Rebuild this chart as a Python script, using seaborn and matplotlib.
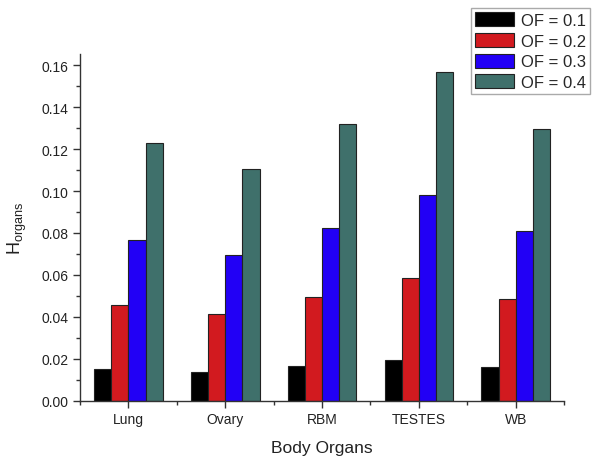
import matplotlib
matplotlib.use("Agg")
import matplotlib.pyplot as plt
from matplotlib.ticker import MultipleLocator, FixedLocator
import seaborn as sns
import pandas as pd

organs = ["Lung", "Ovary", "RBM", "TESTES", "WB"]
of_labels = ["OF = 0.1", "OF = 0.2", "OF = 0.3", "OF = 0.4"]
h_of_01 = [0.0153, 0.0138, 0.0164, 0.0194, 0.0162]
h_of_02 = [0.0458, 0.0415, 0.0493, 0.0586, 0.0485]
h_of_03 = [0.0764, 0.0694, 0.0824, 0.0980, 0.0811]
h_of_04 = [0.1227, 0.1106, 0.1321, 0.1567, 0.1298]
colors = ["#000000", "#d21a1f", "#2200f5", "#3f706b"]

rows = []
for label, vals in zip(of_labels, [h_of_01, h_of_02, h_of_03, h_of_04]):
    for organ, v in zip(organs, vals):
        rows.append({"organ": organ, "OF": label, "H": v})
df = pd.DataFrame(rows)

sns.set_style("ticks")
plt.rcParams["font.family"] = ["Liberation Sans", "DejaVu Sans"]
plt.rcParams["mathtext.fontset"] = "custom"
plt.rcParams["mathtext.rm"] = "Liberation Sans"

fig = plt.figure(figsize=(5.97, 4.6), dpi=100)
ax = fig.add_axes([0.134, 0.127, 0.811, 0.753])

sns.barplot(data=df, x="organ", y="H", hue="OF", order=organs,
            hue_order=of_labels, palette=colors, width=0.71, gap=0,
            edgecolor="#222222", linewidth=0.8, saturation=1, ax=ax)

ax.set_xlim(-0.5, 4.5)
ax.set_ylim(0, 0.1653)
ax.yaxis.set_major_locator(MultipleLocator(0.02))
ax.yaxis.set_minor_locator(MultipleLocator(0.01))
ax.yaxis.set_major_formatter(plt.FuncFormatter(lambda v, p: f"{v:.2f}"))
ax.xaxis.set_minor_locator(FixedLocator([-0.5, 0.5, 1.5, 2.5, 3.5, 4.5]))

for side in ("top", "right"):
    ax.spines[side].set_visible(False)
for side in ("left", "bottom"):
    ax.spines[side].set_linewidth(1.0)
    ax.spines[side].set_color("#333333")

ax.tick_params(which="major", direction="out", length=5, width=1.0,
               color="#333333", labelsize=10, labelcolor="#222222")
ax.tick_params(which="minor", direction="out", length=3, width=1.0,
               color="#333333")

ax.set_xlabel("Body Organs", fontsize=12.5, color="#222222", labelpad=10)
ax.set_ylabel(r"H$_{\mathrm{organs}}$", fontsize=13, color="#222222",
              labelpad=9)

handles, labels = ax.get_legend_handles_labels()
ax.legend(handles, labels, loc="upper right", bbox_to_anchor=(0.988, 0.98),
          bbox_transform=fig.transFigure, fontsize=12, frameon=True,
          fancybox=False, edgecolor="#aaaaaa", framealpha=1,
          handlelength=2.35, handleheight=0.9, labelspacing=0.3,
          handletextpad=0.4, borderpad=0.25, borderaxespad=0)

fig.savefig("out.png", dpi=100)
